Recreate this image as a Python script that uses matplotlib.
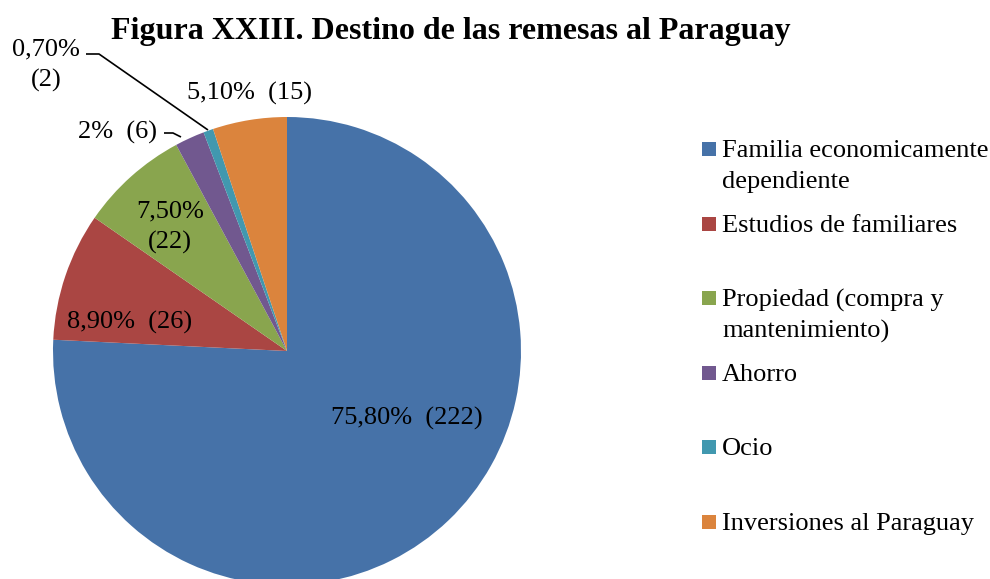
import matplotlib
matplotlib.use("Agg")
import matplotlib.pyplot as plt
from matplotlib.patches import Rectangle

categories = ["Familia economicamente\ndependiente", "Estudios de familiares",
              "Propiedad (compra y\nmantenimiento)", "Ahorro", "Ocio",
              "Inversiones al Paraguay"]
counts = [222, 26, 22, 6, 2, 15]
pct_labels = ["75,80%  (222)", "8,90%  (26)", "7,50%\n(22)", "2%  (6)",
              "0,70%\n(2)", "5,10%  (15)"]
colors = ["#4672A8", "#AA4643", "#89A54E", "#71588F", "#4198AF", "#DB843D"]
title = "Figura XXIII. Destino de las remesas al Paraguay"

plt.rcParams['font.family'] = ['Liberation Serif', 'DejaVu Serif']

W, H = 990, 579
fig = plt.figure(figsize=(W/100, H/100), dpi=100)
ax = fig.add_axes([0, 0, 1, 1])
CX, CY, R = 287, 351, 234

def d(px, py):
    return ((px - CX) / R, (CY - py) / R)

ax.pie(counts, colors=colors, startangle=90, counterclock=False, radius=1,
       center=(0, 0), frame=True, wedgeprops=dict(linewidth=0))
ax.set_xlim(-CX / R, (W - CX) / R)
ax.set_ylim((CY - H) / R, CY / R)
ax.set_aspect('equal')
ax.axis('off')

fs = 19
LS = 31  # px between lines
DY = 2   # small vertical nudge

def put(text, px, py, ha='center'):
    for i, ln in enumerate(text.split('\n')):
        x, y = d(px, py + DY + i * LS)
        ax.text(x, y, ln, ha=ha, va='center', fontsize=fs)

label_pos = [(407, 416, 'center'), (130, 320, 'center'), (170, 209, 'center'),
             (157, 130, 'right'), (46, 47, 'center'), (249, 91, 'center')]
for lab, (px, py, ha) in zip(pct_labels, label_pos):
    put(lab, px, py, ha)

# leader lines
def line(pts):
    xs, ys = zip(*[d(*p) for p in pts])
    ax.plot(xs, ys, color='black', lw=1.2, solid_capstyle='butt')
line([(164, 133), (173, 133), (181, 137)])
line([(86, 54), (99, 54), (208, 130)])

tx, ty = d(451, 32)
ax.text(tx, ty, title, ha='center', va='center', fontsize=23, fontweight='bold')

# legend
rows_y = [149, 224, 298, 373, 447, 522]
for cat, col, yy in zip(categories, colors, rows_y):
    x0, y0 = d(702, yy + 7)
    ax.add_patch(Rectangle((x0, y0), 14 / R, 14 / R, facecolor=col, edgecolor='none'))
    put(cat, 722, yy, 'left')

fig.savefig("out.png", dpi=100)
